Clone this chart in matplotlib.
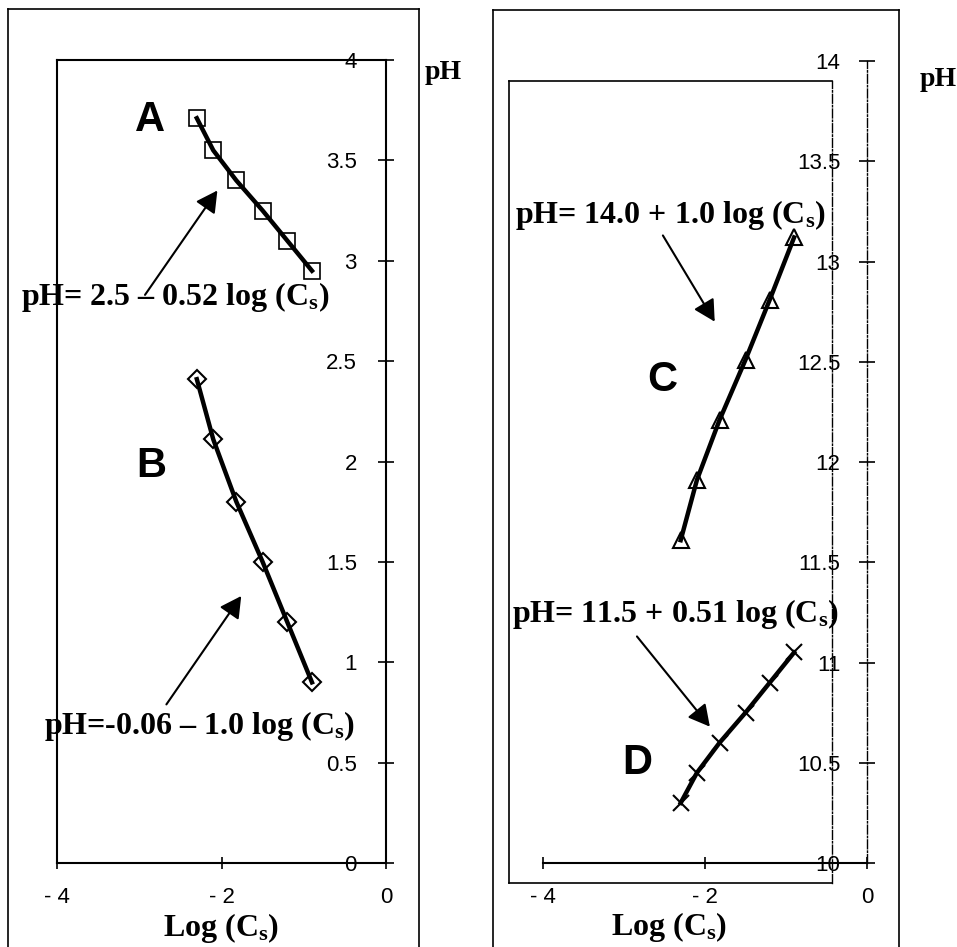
import numpy as np
import matplotlib.pyplot as plt
from matplotlib.ticker import FuncFormatter

# Datos
log_cs = [-2.3, -2.1, -1.82, -1.5, -1.2, -0.9]
ph_A = [3.71, 3.55, 3.40, 3.25, 3.10, 2.95]
ph_B = [2.41, 2.11, 1.80, 1.50, 1.20, 0.90]
ph_C = [11.61, 11.91, 12.21, 12.51, 12.81, 13.12]
ph_D = [10.30, 10.45, 10.60, 10.75, 10.90, 11.05]

ticks_x = [-4, -2, 0]
ticks_x_lbl = ['- 4', '- 2', '0']
ticks_left = [0, 0.5, 1, 1.5, 2, 2.5, 3, 3.5, 4]
ticks_right = [10, 10.5, 11, 11.5, 12, 12.5, 13, 13.5, 14]

plt.rcParams['mathtext.fontset'] = 'custom'
plt.rcParams['mathtext.rm'] = 'Liberation Serif:bold'
plt.rcParams['mathtext.it'] = 'Liberation Serif:bold'
plt.rcParams['mathtext.bf'] = 'Liberation Serif:bold'

SERIF = dict(family='Liberation Serif', weight='bold')
SANS = 'Liberation Sans'

W, H = 957, 947
fig = plt.figure(figsize=(W / 100, H / 100), dpi=100)


def rect(l, t, r, b):
    return [l / W, 1 - b / H, (r - l) / W, (b - t) / H]


def frame(box, hide_bottom=False):
    a = fig.add_axes(rect(*box), zorder=0)
    a.set_xticks([])
    a.set_yticks([])
    a.patch.set_alpha(0)
    for s in a.spines.values():
        s.set_linewidth(1.2)
    if hide_bottom:
        a.spines['bottom'].set_visible(False)
    return a


# marcos exteriores e interior (tipo Excel)
frame((8, 9, 419, 947), hide_bottom=True)
frame((493, 10, 899, 947), hide_bottom=True)
fr = frame((509, 81, 832, 883))
fr.spines['right'].set_linestyle('-.')
fr.spines['right'].set_linewidth(1.0)


def style_axes(ax, yticks, ypad, label_x, label_y):
    ax.patch.set_alpha(0)
    ax.set_xlim(-4, 0)
    ax.set_xticks(ticks_x)
    ax.set_xticklabels(ticks_x_lbl)
    ax.set_yticks(yticks)
    ax.yaxis.set_major_formatter(FuncFormatter(lambda v, p: f'{v:g}'))
    ax.yaxis.tick_right()
    ax.tick_params(axis='y', direction='inout', length=12, width=1.2,
                   pad=ypad, labelsize=16)
    ax.tick_params(axis='x', direction='inout', length=8, width=1.2,
                   pad=13, labelsize=16)
    for t in ax.get_xticklabels() + ax.get_yticklabels():
        t.set_fontfamily(SANS)
    for t in ax.yaxis.get_major_ticks():
        t.label2.set_horizontalalignment('right')
    ax.set_xlabel('Log (C$_\\mathrm{s}$)', fontsize=23, **SERIF)
    ax.xaxis.set_label_coords(label_x, label_y)


# ---------- panel izquierdo ----------
axL = fig.add_axes(rect(57, 60, 386, 863), zorder=2)
axL.set_ylim(0, 4)
for s in axL.spines.values():
    s.set_linewidth(1.5)
style_axes(axL, ticks_left, -27, 0.5, -0.060)

axL.plot(log_cs, ph_A, '-', color='black', lw=3.2)
axL.plot(log_cs, ph_A, 's', ms=11, mfc='none', mec='black', mew=1.2)
axL.plot(log_cs, ph_B, '-', color='black', lw=3.2)
axL.plot(log_cs, ph_B, 'D', ms=9, mfc='none', mec='black', mew=1.5)

axL.text(-2.87, 3.70, 'A', fontsize=30, fontweight='bold', family=SANS,
         ha='center', va='center')
axL.text(-2.85, 1.98, 'B', fontsize=30, fontweight='bold', family=SANS,
         ha='center', va='center')

arrow = dict(arrowstyle='-|>,head_length=0.65,head_width=0.35',
             mutation_scale=20, lw=1.5, color='black', shrinkA=0, shrinkB=0)
axL.annotate('', xy=(-2.05, 3.35), xytext=(-2.93, 2.83), arrowprops=arrow)
axL.text(-2.56, 2.82, 'pH= 2.5 \u2013 0.52 log (C$_\\mathrm{s}$)', fontsize=23,
         ha='center', va='center', **SERIF)
axL.annotate('', xy=(-1.76, 1.33), xytext=(-2.67, 0.79), arrowprops=arrow)
axL.text(-2.27, 0.68, 'pH=-0.06 \u2013 1.0 log (C$_\\mathrm{s}$)', fontsize=23,
         ha='center', va='center', **SERIF)
axL.text(0.69, 3.94, 'pH', fontsize=20, ha='center', va='center',
         clip_on=False, **SERIF)

# ---------- panel derecho ----------
axR = fig.add_axes(rect(543, 61, 867, 863), zorder=2)
axR.set_ylim(10, 14)
axR.spines['top'].set_visible(False)
axR.spines['left'].set_visible(False)
axR.spines['bottom'].set_linewidth(1.5)
axR.spines['right'].set_linewidth(1.0)
axR.spines['right'].set_linestyle('-.')
style_axes(axR, ticks_right, -25, 0.39, -0.058)

axR.plot(log_cs, ph_C, '-', color='black', lw=3.2)
axR.plot(log_cs, ph_C, '^', ms=11, mfc='none', mec='black', mew=1.5)
axR.plot(log_cs, ph_D, '-', color='black', lw=3.2)
axR.plot(log_cs, ph_D, 'x', ms=11, mec='black', mew=1.5)

axR.text(-2.53, 12.41, 'C', fontsize=30, fontweight='bold', family=SANS,
         ha='center', va='center')
axR.text(-2.84, 10.50, 'D', fontsize=30, fontweight='bold', family=SANS,
         ha='center', va='center')
axR.annotate('', xy=(-1.88, 12.70), xytext=(-2.52, 13.13), arrowprops=arrow)
axR.text(-2.43, 13.23, 'pH= 14.0 + 1.0 log (C$_\\mathrm{s}$)', fontsize=23,
         ha='center', va='center', **SERIF)
axR.annotate('', xy=(-1.94, 10.68), xytext=(-2.84, 11.13), arrowprops=arrow)
axR.text(-2.36, 11.24, 'pH= 11.5 + 0.51 log (C$_\\mathrm{s}$)', fontsize=23,
         ha='center', va='center', **SERIF)
axR.text(0.88, 13.91, 'pH', fontsize=20, ha='center', va='center',
         clip_on=False, **SERIF)

fig.savefig('out.png', dpi=100)
